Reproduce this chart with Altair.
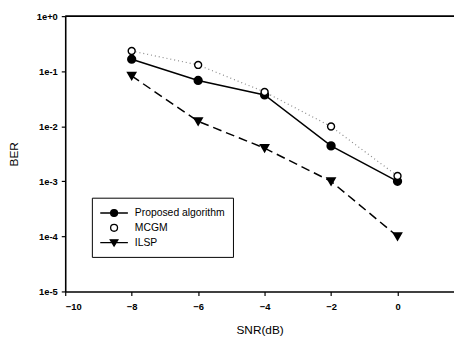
import altair as alt
import pandas as pd

snr = [-8, -6, -4, -2, 0]
proposed = [0.165, 0.068, 0.037, 0.0044, 0.001]
mcgm = [0.233, 0.13, 0.042, 0.0099, 0.00125]
ilsp = [0.082, 0.0123, 0.0040, 0.001, 0.0001]
series = ["Proposed algorithm", "MCGM", "ILSP"]
y_ticks = [1e-5, 1e-4, 1e-3, 1e-2, 1e-1, 1]
x_ticks = [-10, -8, -6, -4, -2, 0]
x_domain = [-10, 1.7]

rows = []
for name, vals in zip(series, [proposed, mcgm, ilsp]):
    for s, v in zip(snr, vals):
        rows.append({"series": name, "snr": s, "ber": v, "lab": name})
df = pd.DataFrame(rows)

FONT = "Liberation Sans"

xs = alt.Scale(domain=x_domain, nice=False, zero=False)
ys = alt.Scale(type="log", domain=[1e-5, 1], nice=False)

xenc = alt.X("snr:Q", scale=xs, axis=alt.Axis(
    values=x_ticks, title="SNR(dB)", grid=False, tickSize=4, labelPadding=6,
    titlePadding=14, domainWidth=1.6, tickWidth=1.2))
yenc = alt.Y("ber:Q", scale=ys, axis=alt.Axis(
    values=y_ticks, title="BER", grid=False, tickSize=4, labelPadding=4,
    titlePadding=16, domainWidth=1.6, tickWidth=1.2,
    labelExpr="datum.value >= 1 ? '1e+0' : '1e-' + round(-log(datum.value)/LN10)"))

base = alt.Chart(df)

l1 = base.transform_filter(alt.datum.series == "Proposed algorithm").mark_line(
    color="black", strokeWidth=1.5).encode(x=xenc, y=yenc)
l2 = base.transform_filter(alt.datum.series == "MCGM").mark_line(
    color="#888888", strokeWidth=1.2, strokeDash=[1, 3]).encode(x="snr:Q", y="ber:Q")
l3 = base.transform_filter(alt.datum.series == "ILSP").mark_line(
    color="black", strokeWidth=1.5, strokeDash=[9, 5]).encode(x="snr:Q", y="ber:Q")

p1 = base.transform_filter(alt.datum.series == "Proposed algorithm").mark_point(
    shape="circle", filled=True, fill="black", stroke="black", size=55, opacity=1).encode(x="snr:Q", y="ber:Q")
p2 = base.transform_filter(alt.datum.series == "MCGM").mark_point(
    shape="circle", filled=True, fill="white", stroke="black", strokeWidth=1.4, size=50, opacity=1).encode(x="snr:Q", y="ber:Q")
p3 = base.transform_filter(alt.datum.series == "ILSP").mark_point(
    shape="triangle-down", filled=True, fill="black", stroke="black", size=55, opacity=1).encode(x="snr:Q", y="ber:Q")

circ = "M-0.5,0A0.5,0.5 0 1 0 0.5,0A0.5,0.5 0 1 0 -0.5,0Z"
paths = [
    "M-2,0H2" + circ,
    circ,
    "M-2,0H2M-0.55,-0.4L0.55,-0.4L0,0.5Z",
]
legend = alt.Legend(orient="none", legendX=27, legendY=184, strokeColor="black",
                    fillColor="white", padding=7.5, rowPadding=0, symbolOpacity=1,
                    symbolStrokeWidth=1.3, symbolSize=196, symbolOffset=7,
                    labelFont=FONT, labelFontSize=10.5, labelOffset=13, labelColor="black",
                    labelLimit=200, title=None)
leg = base.transform_filter("false").mark_point(filled=True, strokeWidth=1.3, size=196).encode(
    x="snr:Q", y="ber:Q",
    shape=alt.Shape("lab:N", scale=alt.Scale(domain=series, range=paths), title=None, legend=legend),
    fill=alt.Fill("lab:N", scale=alt.Scale(domain=series, range=["black", "white", "black"]), title=None, legend=legend),
    stroke=alt.Stroke("lab:N", scale=alt.Scale(domain=series, range=["black", "black", "black"]), title=None, legend=legend),
)

frame = alt.Chart(pd.DataFrame({"x0": [x_domain[0]], "x1": [x_domain[1]], "y": [1.0]})).mark_rule(
    color="black", strokeWidth=1.6).encode(x="x0:Q", x2="x1:Q", y="y:Q")

chart = alt.layer(l2, l1, l3, p1, p2, p3, leg, frame).properties(
    width=394, height=279, padding={"left": 58, "top": 6, "right": 0, "bottom": 50},
    autosize=alt.AutoSizeParams(type="none"),
).configure_view(stroke=None).configure_axis(
    labelFont=FONT, labelFontSize=9.5, labelFontWeight="bold", labelColor="black",
    titleFont=FONT, titleFontSize=12, titleFontWeight="normal", titleColor="black",
    domainColor="black", tickColor="black",
)

chart.save("out.html", embed_options={"renderer": "svg", "actions": False})
